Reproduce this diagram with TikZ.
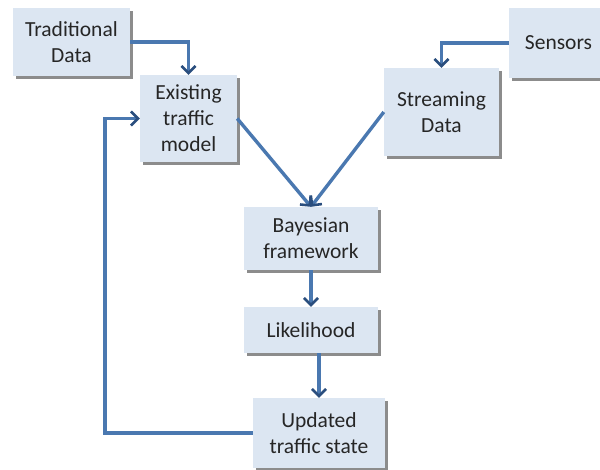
\documentclass[tikz,border=0pt]{standalone}
\usepackage{fontspec}
\setmainfont{Carlito}
\usetikzlibrary{arrows.meta,shadows,calc}
\definecolor{boxfill}{HTML}{DCE6F2}
\definecolor{linecol}{HTML}{4A78B0}
\definecolor{tipcol}{HTML}{2A4E7E}
\definecolor{txt}{HTML}{262626}
\tikzset{
  box/.style={fill=boxfill, draw=none, align=center, text=txt,
    font=\fontsize{21.5}{26}\selectfont, inner sep=0pt,
    drop shadow={shadow xshift=2.5pt, shadow yshift=-3pt, fill=black!60, opacity=0.75}},
  conn/.style={draw=linecol, line width=3.4pt,
    -{Straight Barb[length=7pt,width=14pt,line width=2.6pt,color=tipcol]}},
}
\begin{document}
\begin{tikzpicture}[x=1pt,y=-1pt]
\useasboundingbox (0,0) rectangle (600,470);
\node[box, minimum width=117pt, minimum height=68pt] (trad) at (71.5,42) {Traditional\\Data};
\node[box, minimum width=97pt, minimum height=87pt] (exist) at (188.5,118.5) {Existing\\traffic\\model};
\node[box, minimum width=115pt, minimum height=88pt] (stream) at (441.5,112) {Streaming\\Data};
\node[box, minimum width=99pt, minimum height=70pt] (sensors) at (558.5,43) {Sensors};
\node[box, minimum width=134pt, minimum height=63pt] (bayes) at (311,238.5) {Bayesian\\framework};
\node[box, minimum width=134pt, minimum height=46pt] (like) at (311,330) {Likelihood};
\node[box, minimum width=132pt, minimum height=70pt] (upd) at (319,433) {Updated\\traffic state};
\coordinate (loop) at (105,433);
\draw[conn] (trad.east) -| (exist.north);
\draw[conn] (sensors.west) -| (stream.north);
\draw[conn] (exist.east) -- (bayes.north);
\draw[conn] (stream.west) -- (bayes.north);
\draw[conn] (bayes.south) -- (like.north);
\draw[conn] (upd.north |- like.south) -- (upd.north);
\draw[conn] (upd.west) -- (loop) |- (exist.west);
\end{tikzpicture}
\end{document}
